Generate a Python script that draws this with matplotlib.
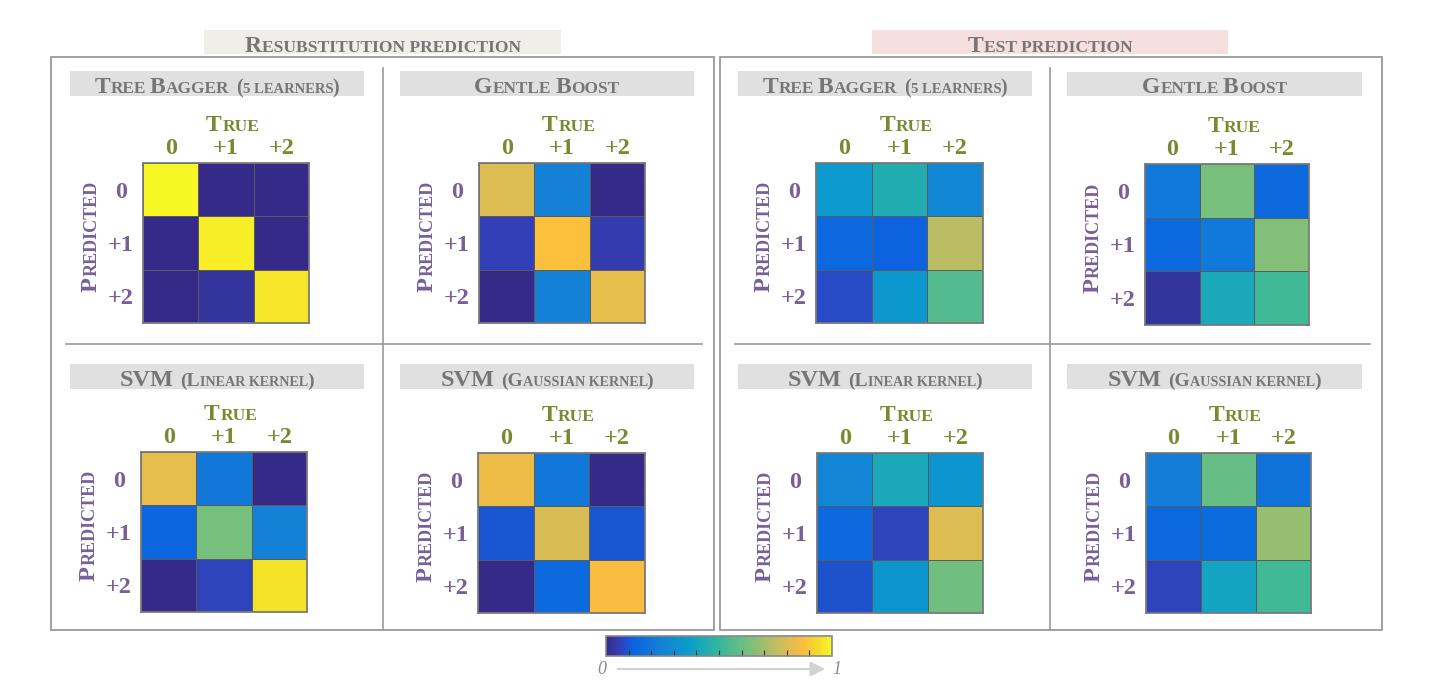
import matplotlib
matplotlib.use("Agg")
import matplotlib.pyplot as plt
import numpy as np
from matplotlib.colors import LinearSegmentedColormap
from matplotlib.patches import Rectangle
from matplotlib.cm import ScalarMappable
from matplotlib.colors import Normalize

W, H, DPI = 1436, 694, 100
SERIF = "Liberation Serif"

classes = ["0", "+1", "+2"]
panel_titles = [
    [("Tree Bagger", 17, 12.4), (" (5 learners)", 14.5, 10.5)],
    [("Gentle Boost", 17, 12.4)],
    [("SVM", 17.5, 12), (" (Linear kernel)", 14, 10.2)],
    [("SVM", 17.5, 12), (" (Gaussian kernel)", 14, 10.2)],
]

resub_tree_bagger = [[1.00, 0.00, 0.00], [0.00, 0.98, 0.00], [0.00, 0.03, 0.96]]
resub_gentle_boost = [[0.81, 0.24, 0.00], [0.06, 0.88, 0.05], [0.00, 0.24, 0.83]]
resub_svm_linear = [[0.83, 0.20, 0.00], [0.13, 0.63, 0.24], [0.00, 0.07, 0.95]]
resub_svm_gaussian = [[0.84, 0.20, 0.00], [0.10, 0.80, 0.10], [0.00, 0.15, 0.87]]
test_tree_bagger = [[0.35, 0.44, 0.27], [0.14, 0.12, 0.74], [0.08, 0.34, 0.56]]
test_gentle_boost = [[0.21, 0.63, 0.15], [0.14, 0.21, 0.65], [0.03, 0.42, 0.52]]
test_svm_linear = [[0.26, 0.42, 0.33], [0.15, 0.07, 0.81], [0.09, 0.33, 0.62]]
test_svm_gaussian = [[0.23, 0.60, 0.18], [0.14, 0.16, 0.68], [0.07, 0.40, 0.52]]

parula = LinearSegmentedColormap.from_list("parula", [
    (0.00, (0.208, 0.166, 0.529)),
    (0.06, (0.200, 0.250, 0.720)),
    (0.12, (0.040, 0.390, 0.880)),
    (0.24, (0.078, 0.504, 0.838)),
    (0.37, (0.040, 0.620, 0.800)),
    (0.50, (0.210, 0.720, 0.610)),
    (0.62, (0.440, 0.750, 0.500)),
    (0.75, (0.750, 0.740, 0.380)),
    (0.875, (0.990, 0.740, 0.250)),
    (0.94, (0.960, 0.860, 0.160)),
    (1.00, (0.970, 0.970, 0.150)),
])

GRAY_TXT = "#767676"
OLIVE = "#778a30"
PURPLE = "#77609a"
LINE = "#9a9a9a"

fig = plt.figure(figsize=(W / DPI, H / DPI), dpi=DPI)
bg = fig.add_axes([0, 0, 1, 1])
bg.set_xlim(0, W)
bg.set_ylim(H, 0)
bg.axis("off")
renderer = fig.canvas.get_renderer()


def caps_pieces(parts):
    pieces = []
    for text, big, small in parts:
        for ch in text:
            if ch == " ":
                size, s = small, " "
            elif ch.isupper() or ch in "()":
                size, s = big, ch
            else:
                size, s = small, ch.upper()
            if pieces and pieces[-1][1] == size:
                pieces[-1][0] += s
            else:
                pieces.append([s, size])
    return pieces


def small_caps(x, y, parts, color, rotation=0):
    """Draw small-caps text centred on x (horizontal) or y (rotated)."""
    artists, widths = [], []
    for s, size in caps_pieces(parts):
        core = s.strip()
        lead = len(s) - len(s.lstrip())
        trail = len(s) - len(s.rstrip())
        sp = 0.2 * size * DPI / 72
        if lead:
            artists.append(None)
            widths.append(lead * sp)
        if core:
            if core.startswith(")") and widths:
                widths[-1] -= 2.0
            t = bg.text(0, 0, core, fontsize=size, fontweight="bold", family=SERIF,
                        color=color, rotation=rotation, rotation_mode="anchor",
                        ha="left", va="baseline")
            ext = t.get_window_extent(renderer)
            artists.append(t)
            widths.append((ext.height if rotation else ext.width) + 0.5)
        if trail:
            artists.append(None)
            widths.append(trail * sp)
    total = sum(widths)
    pos = -total / 2
    for t, w in zip(artists, widths):
        if t is not None:
            if rotation:
                t.set_position((x, y - pos))
            else:
                t.set_position((x + pos, y))
        pos += w


def rect(x0, y0, x1, y1, **kw):
    bg.add_patch(Rectangle((x0, y0), x1 - x0, y1 - y0, **kw))


# outer boxes and dividers
for bx0, bx1, vx, hx0, hx1 in [(51, 714, 383, 66, 702), (720, 1382, 1050, 735, 1370)]:
    rect(bx0, 57, bx1, 630, facecolor="none", edgecolor=LINE, lw=1.3)
    bg.plot([vx, vx], [68, 630], color=LINE, lw=1.2)
    bg.plot([hx0, hx1], [344, 344], color=LINE, lw=1.2)

# main banners
rect(204, 30, 561, 54, facecolor="#f0eee8", edgecolor="none")
rect(872, 30, 1228, 54, facecolor="#f6dfdf", edgecolor="none")
small_caps(383, 52, [("Resubstitution prediction", 17, 12.6)], GRAY_TXT)
small_caps(1050, 52, [("Test prediction", 17, 12.6)], GRAY_TXT)

banners = [
    (70, 71, 364, 96), (400, 71, 694, 96), (70, 364, 364, 389), (400, 364, 694, 389),
    (738, 71, 1032, 96), (1067, 72, 1362, 96), (738, 364, 1032, 389), (1067, 364, 1362, 389),
]
heat_boxes = [
    (143, 163, 309, 323), (479, 163, 645, 323), (141, 452, 307, 612), (478, 453, 645, 613),
    (816, 163, 983, 323), (1145, 164, 1309, 325), (817, 453, 983, 613), (1146, 453, 1311, 613),
]
matrices = [resub_tree_bagger, resub_gentle_boost, resub_svm_linear, resub_svm_gaussian,
            test_tree_bagger, test_gentle_boost, test_svm_linear, test_svm_gaussian]

for i, (ban, hb, mat) in enumerate(zip(banners, heat_boxes, matrices)):
    rect(*ban[:2], ban[2], ban[3], facecolor="#e0e0e0", edgecolor="none")
    small_caps((ban[0] + ban[2]) / 2, ban[3] - 3, panel_titles[i % 4], GRAY_TXT)

    x0, y0, x1, y1 = hb
    ax = fig.add_axes([x0 / W, 1 - y1 / H, (x1 - x0) / W, (y1 - y0) / H])
    ax.pcolormesh(np.array(mat), cmap=parula, vmin=0, vmax=1,
                  edgecolors="#5a5a5a", linewidth=0.7)
    ax.set_xlim(0, 3)
    ax.set_ylim(3, 0)
    ax.xaxis.tick_top()
    ax.set_xticks([0.5, 1.5, 2.5])
    ax.set_xticklabels(classes, fontsize=17.5, fontweight="bold", family=SERIF, color=OLIVE)
    ax.set_yticks([0.5, 1.5, 2.5])
    ax.set_yticklabels(classes, fontsize=17.5, fontweight="bold", family=SERIF, color=PURPLE,
                       ha="center")
    ax.tick_params(axis="x", length=0, pad=3)
    ax.tick_params(axis="y", length=0, pad=16)
    for sp in ax.spines.values():
        sp.set_color("#7a7a7a")
        sp.set_linewidth(1.3)

    small_caps((x0 + x1) / 2 + 7, y0 - 32, [("True", 17, 12.6)], OLIVE)
    small_caps(x0 - 46, (y0 + y1) / 2 - 7, [("Predicted", 17.5, 13)], PURPLE, rotation=90)

# colour bar
cax = fig.add_axes([606 / W, 1 - 656 / H, 226 / W, 20 / H])
cb = fig.colorbar(ScalarMappable(norm=Normalize(0, 1), cmap=parula), cax=cax,
                  orientation="horizontal")
cb.set_ticks(np.linspace(0.1, 0.9, 9))
cb.ax.tick_params(direction="in", length=4, width=0.8, color="#333333",
                  labelbottom=False, bottom=True)
cb.outline.set_edgecolor("#888888")
cb.outline.set_linewidth(1.2)

bg.annotate("", xy=(828, 669), xytext=(615, 669),
            arrowprops=dict(arrowstyle="-|>", color="#d2d2d2", lw=1.6, mutation_scale=22))
bg.text(602, 669, "0", fontsize=13, style="italic", family=SERIF, color="#8a8a8a",
        ha="center", va="center")
bg.text(837, 669, "1", fontsize=13, style="italic", family=SERIF, color="#8a8a8a",
        ha="center", va="center")

fig.savefig("out.png", dpi=DPI)
